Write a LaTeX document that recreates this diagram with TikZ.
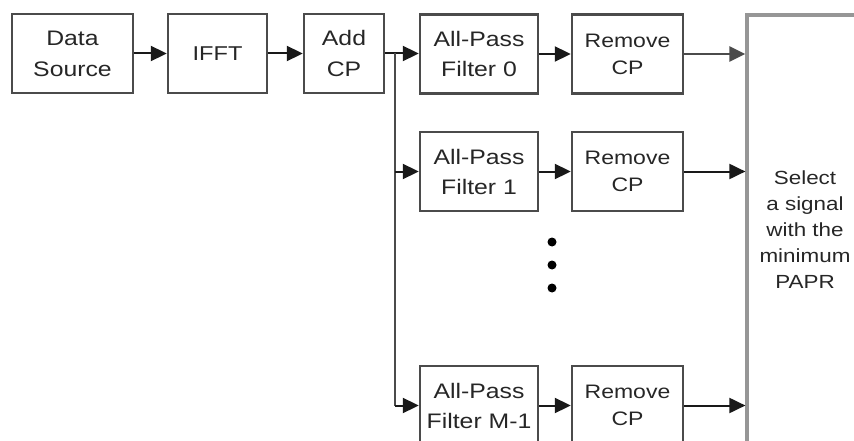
\documentclass[tikz,border=0pt]{standalone}
\usepackage{fontspec}
\newfontfamily\lsans[FakeStretch=1.18]{Liberation Sans}
\usetikzlibrary{arrows.meta}
\definecolor{boxgray}{RGB}{75,75,75}
\definecolor{biggray}{RGB}{150,150,150}
\definecolor{linecol}{RGB}{25,25,25}
\tikzset{
  blk/.style={draw=boxgray, line width=2.4pt, minimum height=79pt, inner sep=0pt,
    align=center, font=\lsans\fontsize{21}{31}\selectfont, text=black!85},
  rmblk/.style={blk, font=\lsans\fontsize{19.5}{27}\selectfont},
  flow/.style={draw=linecol, line width=2pt, -{Triangle[length=16pt,width=15pt]}},
  busline/.style={draw=boxgray, line width=2.4pt},
  dotmark/.style={circle, fill=black, inner sep=0pt, minimum size=9pt},
}
\begin{document}
\begin{tikzpicture}[x=1pt,y=-1pt]
\useasboundingbox (0,0) rectangle (854,441);
\clip (0,0) rectangle (854,441);
% first row
\node[blk, minimum width=121pt] (ds) at (72.5,53.5) {Data\\Source};
\node[blk, minimum width=99pt, font=\lsans\fontsize{20}{28}\selectfont] (ifft) at (217.5,53.5) {IFFT};
\node[blk, minimum width=80pt] (addcp) at (344,53.5) {Add\\CP};
% filters
\node[blk, minimum width=118pt, font=\lsans\fontsize{21}{30}\selectfont] (f0) at (479,54) {All-Pass\\Filter 0};
\node[blk, minimum width=118pt, font=\lsans\fontsize{21}{30}\selectfont] (f1) at (479,171.5) {All-Pass\\Filter 1};
\node[blk, minimum width=118pt, font=\lsans\fontsize{21}{30}\selectfont] (fm) at (479,405.5) {All-Pass\\Filter M-1};
% remove CP
\node[rmblk, minimum width=111pt] (r0) at (627.5,54) {Remove\\CP};
\node[rmblk, minimum width=111pt] (r1) at (627.5,171.5) {Remove\\CP};
\node[rmblk, minimum width=111pt] (rm) at (627.5,405.5) {Remove\\CP};
% selector
\node[draw=biggray, line width=3.2pt, minimum width=116pt, minimum height=430pt,
  inner sep=0pt, align=center, font=\lsans\fontsize{19}{26}\selectfont, text=black!85]
  (sel) at (805,230) {Select\\a signal\\with the\\minimum\\PAPR};
% dots
\node[dotmark] (d1) at (552,242) {};
\node[dotmark] (d2) at (552,265) {};
\node[dotmark] (d3) at (552,288) {};
% connectors
\draw[flow] (ds.east) -- (ifft.west);
\draw[flow] (ifft.east) -- (addcp.west);
\draw[flow] (addcp.east) -- (addcp.east -| f0.west);
\coordinate (bus) at (395,53.5);
\draw[busline] (bus) -- (bus |- fm.west);
\draw[flow] (bus |- f1.west) -- (f1.west);
\draw[flow] (bus |- fm.west) -- (fm.west);
\draw[flow] (f0.east) -- (r0.west);
\draw[flow] (f1.east) -- (r1.west);
\draw[flow] (fm.east) -- (rm.west);
\draw[flow, line width=2.8pt, draw=boxgray] (r0.east) -- (r0.east -| sel.west);
\draw[flow] (r1.east) -- (r1.east -| sel.west);
\draw[flow] (rm.east) -- (rm.east -| sel.west);
\end{tikzpicture}
\end{document}
